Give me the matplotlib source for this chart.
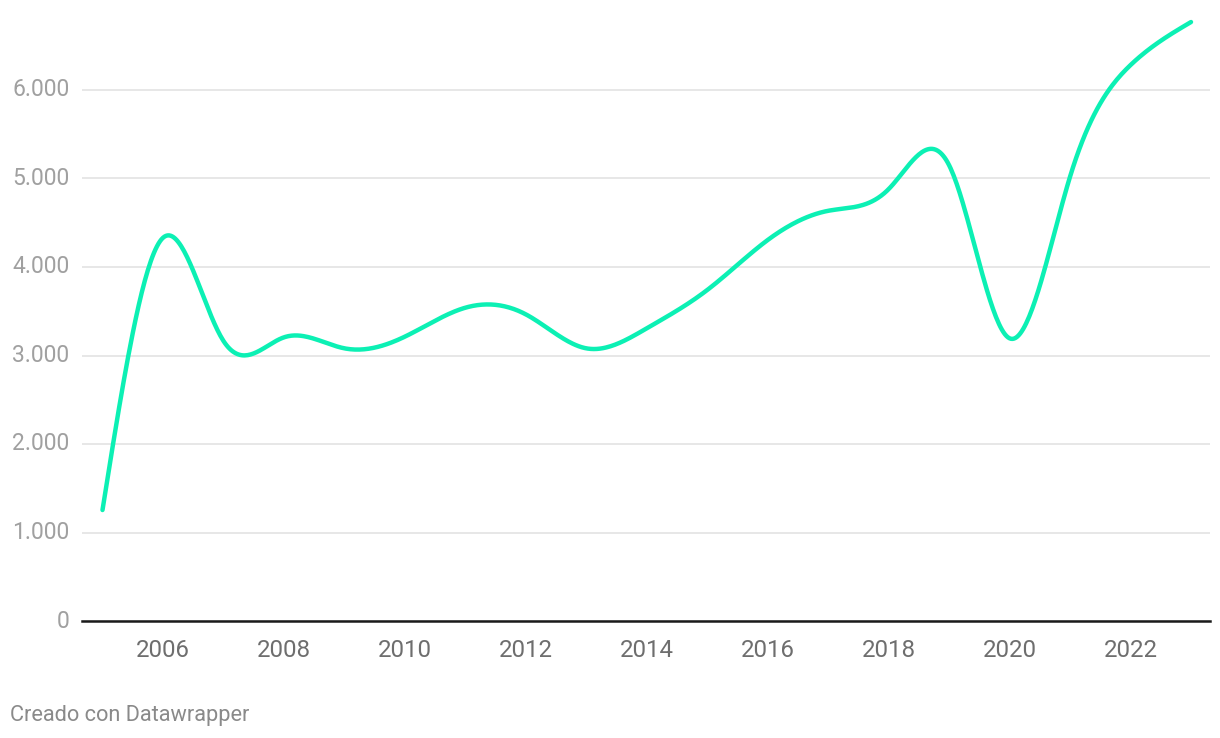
import numpy as np
import matplotlib
matplotlib.use("Agg")
import matplotlib.pyplot as plt
from matplotlib.ticker import FuncFormatter

years = [2005, 2006, 2007, 2008, 2009, 2010, 2011, 2012, 2013, 2014,
         2015, 2016, 2017, 2018, 2019, 2020, 2021, 2022, 2023]
values = [1254, 4330, 3165, 3205, 3081, 3213, 3540, 3465, 3081, 3307,
          3740, 4305, 4635, 4880, 5150, 3194, 5021, 6282, 6768]
y_ticks = [0, 1000, 2000, 3000, 4000, 5000, 6000]
x_ticks = [2006, 2008, 2010, 2012, 2014, 2016, 2018, 2020, 2022]
footer = "Creado con Datawrapper"


def natural_spline(x, y, n=40):
    x = np.asarray(x, float)
    y = np.asarray(y, float)
    m = len(x)
    h = np.diff(x)
    A = np.zeros((m, m))
    b = np.zeros(m)
    A[0, 0] = 1
    A[-1, -1] = 1
    for i in range(1, m - 1):
        A[i, i - 1] = h[i - 1]
        A[i, i] = 2 * (h[i - 1] + h[i])
        A[i, i + 1] = h[i]
        b[i] = 3 * ((y[i + 1] - y[i]) / h[i] - (y[i] - y[i - 1]) / h[i - 1])
    c = np.linalg.solve(A, b)
    xs, ys = [], []
    for i in range(m - 1):
        bb = (y[i + 1] - y[i]) / h[i] - h[i] * (2 * c[i] + c[i + 1]) / 3
        d = (c[i + 1] - c[i]) / (3 * h[i])
        t = np.linspace(0, h[i], n, endpoint=(i == m - 2))
        xs.append(x[i] + t)
        ys.append(y[i] + bb * t + c[i] * t ** 2 + d * t ** 3)
    return np.concatenate(xs), np.concatenate(ys)


plt.rcParams['font.family'] = ['Roboto', 'DejaVu Sans']

fig = plt.figure(figsize=(12.2, 7.38), dpi=100)
left, right = 82 / 1220, 1210 / 1220
bottom = 1 - 621 / 738
top = 1 - 10 / 738
ax = fig.add_axes([left, bottom, right - left, top - bottom])

px_per_year = 60.5
ax.set_xlim(2005 - 20.5 / px_per_year, 2023 + 19 / px_per_year)
ax.set_ylim(0, (621 - 10) / 88.5 * 1000)

sx, sy = natural_spline(years, values)
ax.plot(sx, sy, color='#0cf0b4', lw=3.2, solid_capstyle='round', zorder=3)

ax.set_yticks(y_ticks)
ax.set_xticks(x_ticks)
ax.yaxis.set_major_formatter(FuncFormatter(lambda v, p: f"{int(v):,}".replace(",", ".")))
ax.grid(axis='y', color='#e3e3e3', lw=1.2, zorder=0)
ax.grid(axis='x', visible=False)
for s in ['top', 'right', 'left']:
    ax.spines[s].set_visible(False)
ax.spines['bottom'].set_color('#1a1a1a')
ax.spines['bottom'].set_linewidth(1.8)
ax.spines['bottom'].set_zorder(4)
ax.tick_params(axis='y', length=0, pad=9, labelsize=16.5, labelcolor='#a0a0a0')
ax.tick_params(axis='x', length=0, pad=13, labelsize=17.3, labelcolor='#6e6e6e')
for lab in ax.get_yticklabels():
    lab.set_verticalalignment('center')

fig.text(10 / 1220, 1 - 715 / 738, footer, fontsize=15.7, color='#8a8a8a',
         ha='left', va='center')

fig.savefig('out.png', dpi=100, facecolor='white')
